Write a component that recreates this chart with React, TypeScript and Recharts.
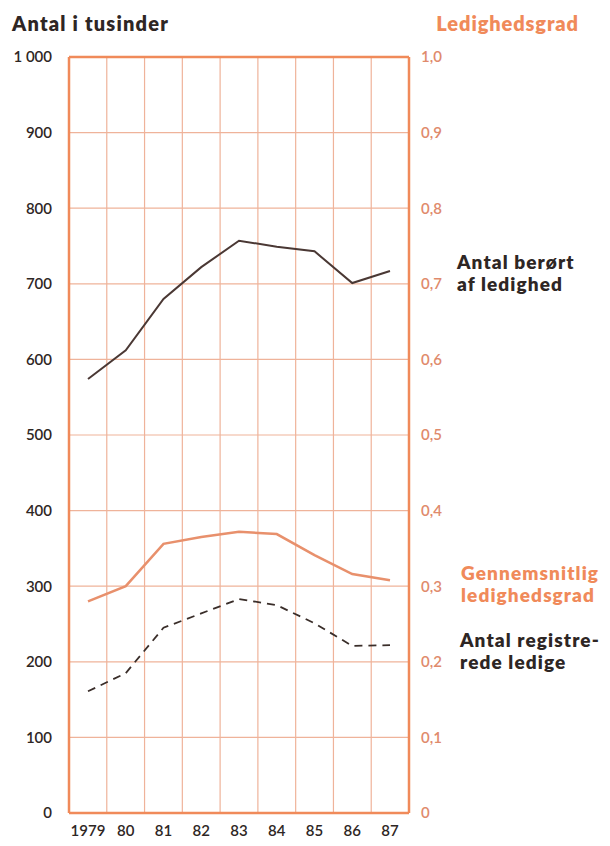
import { LineChart, Line, XAxis, YAxis, CartesianGrid, ReferenceLine } from 'recharts';

const years = ['1979', '80', '81', '82', '83', '84', '85', '86', '87'];
const berort = [574, 612, 680, 722, 757, 749, 743, 701, 717];
const ledighedsgrad = [0.28, 0.3, 0.356, 0.365, 0.372, 0.369, 0.341, 0.316, 0.308];
const registrerede = [161, 185, 245, 264, 283, 275, 251, 221, 222];
const leftTicks = [0, 100, 200, 300, 400, 500, 600, 700, 800, 900, 1000];
const rightTicks = [0, 0.1, 0.2, 0.3, 0.4, 0.5, 0.6, 0.7, 0.8, 0.9, 1.0];

const data = years.map((year, i) => ({
  year,
  berort: berort[i],
  grad: ledighedsgrad[i],
  reg: registrerede[i],
}));

const ORANGE = '#f08a5a';
const GRID = '#efb39a';
const DARK = '#2e2624';
const FONT = 'Lato, "Open Sans", sans-serif';

const fmtLeft = (v: number) => (v === 1000 ? '1 000' : String(v));
const fmtRight = (v: number) => (v === 0 ? '0' : v.toFixed(1).replace('.', ','));

// vertical grid lines sit on the year boundaries, not on the year ticks
const bandEdges = ({ offset }: any) =>
  Array.from({ length: years.length + 1 }, (_, i) => offset.left + (offset.width * i) / years.length);

const labelStyle = {
  position: 'absolute' as const,
  fontFamily: FONT,
  fontWeight: 800,
  fontSize: 19,
  letterSpacing: '1.1px',
  lineHeight: '22px',
  whiteSpace: 'nowrap' as const,
};

export default function App() {
  return (
    <div style={{ position: 'absolute', left: 0, top: 0, width: 610, height: 846, background: '#fff' }}>
      <div style={{ ...labelStyle, left: 12, top: 12, color: DARK, fontSize: 20, letterSpacing: '1.2px' }}>
        Antal i tusinder
      </div>
      <div style={{ ...labelStyle, right: 31, top: 12, color: ORANGE, fontSize: 20, letterSpacing: '0.9px' }}>
        Ledighedsgrad
      </div>

      <LineChart
        width={610}
        height={846}
        data={data}
        margin={{ top: 57, right: 141, left: 0, bottom: 0 }}
        style={{ fontFamily: FONT }}
      >
        <CartesianGrid yAxisId="left" stroke={GRID} strokeWidth={1.2} verticalCoordinatesGenerator={bandEdges} />
        <XAxis
          dataKey="year"
          height={33}
          padding={{ left: 19, right: 19 }}
          tickSize={0}
          tickMargin={12}
          axisLine={{ stroke: ORANGE, strokeWidth: 2.5 }}
          tick={{ fill: DARK, fontSize: 15, fontWeight: 600 }}
          interval={0}
        />
        <YAxis
          yAxisId="left"
          width={69}
          domain={[0, 1000]}
          ticks={leftTicks}
          tickFormatter={fmtLeft}
          tickSize={0}
          tickMargin={17}
          axisLine={{ stroke: ORANGE, strokeWidth: 2.5 }}
          tick={{ fill: DARK, fontSize: 15, fontWeight: 600 }}
        />
        <YAxis
          yAxisId="right"
          orientation="right"
          width={60}
          domain={[0, 1]}
          ticks={rightTicks}
          tickFormatter={fmtRight}
          tickSize={0}
          tickMargin={12}
          axisLine={{ stroke: ORANGE, strokeWidth: 2.5 }}
          tick={{ fill: '#e08a6c', fontSize: 15, fontWeight: 600, textAnchor: 'start' }}
        />
        <ReferenceLine yAxisId="left" y={1000} stroke={ORANGE} strokeWidth={2.5} />
        <Line
          yAxisId="left"
          type="linear"
          dataKey="berort"
          stroke="#4a3834"
          strokeWidth={2}
          dot={false}
          isAnimationActive={false}
        />
        <Line
          yAxisId="right"
          type="linear"
          dataKey="grad"
          stroke="#e8906c"
          strokeWidth={2.5}
          dot={false}
          isAnimationActive={false}
        />
        <Line
          yAxisId="left"
          type="linear"
          dataKey="reg"
          stroke="#3a2e2a"
          strokeWidth={1.8}
          strokeDasharray="8 6"
          dot={false}
          isAnimationActive={false}
        />
      </LineChart>

      <div style={{ ...labelStyle, left: 457, top: 251, color: DARK }}>
        Antal berørt
        <br />
        af ledighed
      </div>
      <div style={{ ...labelStyle, left: 461, top: 562, color: ORANGE }}>
        Gennemsnitlig
        <br />
        ledighedsgrad
      </div>
      <div style={{ ...labelStyle, left: 460, top: 629, color: DARK }}>
        Antal registre-
        <br />
        rede ledige
      </div>
    </div>
  );
}
